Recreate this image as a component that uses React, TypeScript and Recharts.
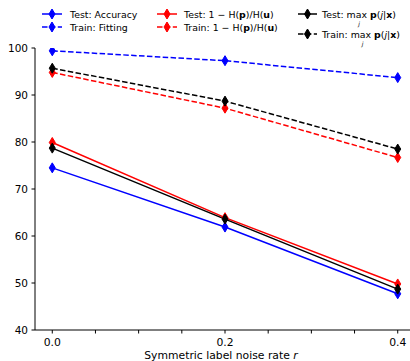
import React from 'react';
import { LineChart, Line, XAxis, YAxis, Legend } from 'recharts';

const noiseRates = [0.0, 0.2, 0.4];
const testAccuracy = [74.5, 61.9, 47.7];
const trainFitting = [99.4, 97.3, 93.7];
const testEntropy = [79.9, 63.9, 49.8];
const trainEntropy = [94.8, 87.2, 76.7];
const testMaxProb = [78.7, 63.6, 48.7];
const trainMaxProb = [95.7, 88.7, 78.5];

const xTicks = [0, 0.05, 0.1, 0.15, 0.2, 0.25, 0.3, 0.35, 0.4];
const xTickLabels = [0, 0.2, 0.4];
const yTicks = [40, 50, 60, 70, 80, 90, 100];

const data = noiseRates.map((r, i) => ({
  r,
  testAccuracy: testAccuracy[i],
  trainFitting: trainFitting[i],
  testEntropy: testEntropy[i],
  trainEntropy: trainEntropy[i],
  testMaxProb: testMaxProb[i],
  trainMaxProb: trainMaxProb[i],
}));

const FONT = '"DejaVu Sans", sans-serif';
const DASH = '5.5 2.4';

const diamondPoints = (cx: number, cy: number, w = 3, h = 5) =>
  `${cx},${cy - h} ${cx + w},${cy} ${cx},${cy + h} ${cx - w},${cy}`;

const makeDot = (color: string) => (props: any) => {
  const { cx, cy, key } = props;
  if (cx == null || cy == null) return <g key={key} />;
  return <polygon key={key} points={diamondPoints(cx, cy)} fill={color} stroke={color} strokeWidth={1} />;
};

const LegendHandle = ({ x1, x2, y, color, dashed }: any) => (
  <g>
    <line x1={x1} x2={x2} y1={y} y2={y} stroke={color} strokeWidth={1.5} strokeDasharray={dashed ? DASH : undefined} />
    <polygon points={diamondPoints((x1 + x2) / 2, y)} fill={color} stroke={color} strokeWidth={1} />
  </g>
);

const LegendContent = () => {
  const fs = 9.4;
  return (
    <svg width={410} height={48} style={{ display: 'block' }}>
      <g fontFamily={FONT} fontSize={fs} fill="#000">
        <LegendHandle x1={42} x2={62} y={14} color="#0000ff" />
        <text x={70} y={14} dominantBaseline="central">Test: Accuracy</text>
        <LegendHandle x1={42} x2={62} y={27} color="#0000ff" dashed />
        <text x={70} y={27} dominantBaseline="central">Train: Fitting</text>

        <LegendHandle x1={157} x2={177} y={14} color="#ff0000" />
        <text x={184} y={14} dominantBaseline="central">
          Test: 1 − H(<tspan fontWeight="bold">p</tspan>)/H(<tspan fontWeight="bold">u</tspan>)
        </text>
        <LegendHandle x1={157} x2={177} y={27} color="#ff0000" dashed />
        <text x={184} y={27} dominantBaseline="central">
          Train: 1 − H(<tspan fontWeight="bold">p</tspan>)/H(<tspan fontWeight="bold">u</tspan>)
        </text>

        <LegendHandle x1={298} x2={317} y={14} color="#000000" />
        <text x={322} y={14} dominantBaseline="central">
          Test: max <tspan fontWeight="bold">p</tspan>(<tspan fontStyle="italic">j</tspan>|<tspan fontWeight="bold">x</tspan>)
        </text>
        <text x={359} y={23.5} fontSize={6} fontStyle="italic" textAnchor="middle" dominantBaseline="central">j</text>
        <LegendHandle x1={298} x2={317} y={34} color="#000000" dashed />
        <text x={322} y={34} dominantBaseline="central">
          Train: max <tspan fontWeight="bold">p</tspan>(<tspan fontStyle="italic">j</tspan>|<tspan fontWeight="bold">x</tspan>)
        </text>
        <text x={362.5} y={43.5} fontSize={6} fontStyle="italic" textAnchor="middle" dominantBaseline="central">j</text>
      </g>
    </svg>
  );
};

const XLabel = () => (
  <text x={221} y={359} textAnchor="middle" fontFamily={FONT} fontSize={10.8} fill="#000">
    Symmetric label noise rate <tspan fontStyle="italic">r</tspan>
  </text>
);

const series = [
  { key: 'testAccuracy', color: '#0000ff', dashed: false },
  { key: 'trainFitting', color: '#0000ff', dashed: true },
  { key: 'testEntropy', color: '#ff0000', dashed: false },
  { key: 'trainEntropy', color: '#ff0000', dashed: true },
  { key: 'testMaxProb', color: '#000000', dashed: false },
  { key: 'trainMaxProb', color: '#000000', dashed: true },
];

export default function App() {
  return (
    <div style={{ position: 'absolute', left: 0, top: 0, width: 410, height: 361, overflow: 'hidden', background: '#fff' }}>
      <LineChart width={420} height={361} data={data} margin={{ top: 48, right: 5, bottom: 0, left: 0 }}>
        <XAxis
          xAxisId="top"
          orientation="top"
          dataKey="r"
          type="number"
          domain={[-0.02, 0.42]}
          height={0}
          tick={false}
          tickLine={false}
          axisLine={{ stroke: '#000', strokeWidth: 1 }}
        />
        <XAxis
          dataKey="r"
          type="number"
          domain={[-0.02, 0.42]}
          ticks={xTicks}
          interval={0}
          allowDataOverflow
          height={31}
          tickSize={3.5}
          tickMargin={5}
          tickLine={{ stroke: '#000' }}
          axisLine={{ stroke: '#000', strokeWidth: 1 }}
          tick={{ fontFamily: FONT, fontSize: 10.8, fill: '#000' }}
          tickFormatter={(v: number) => (xTickLabels.some((t) => Math.abs(t - v) < 1e-9) ? v.toFixed(1) : '')}
          label={<XLabel />}
        />
        <YAxis
          type="number"
          domain={[40, 100]}
          ticks={yTicks}
          interval={0}
          allowDataOverflow
          width={35}
          tickSize={3.5}
          tickMargin={3.5}
          tickLine={{ stroke: '#000' }}
          axisLine={{ stroke: '#000', strokeWidth: 1 }}
          tick={{ fontFamily: FONT, fontSize: 10.5, fill: '#000' }}
        />
        {series.map((s) => (
          <Line
            key={s.key}
            xAxisId={0}
            dataKey={s.key}
            stroke={s.color}
            strokeWidth={1.5}
            strokeDasharray={s.dashed ? DASH : undefined}
            dot={makeDot(s.color)}
            activeDot={false}
            isAnimationActive={false}
            type="linear"
          />
        ))}
        <Legend
          layout="horizontal"
          verticalAlign="middle"
          align="center"
          wrapperStyle={{ position: 'absolute', left: 0, top: 0, width: 410, height: 48 }}
          content={() => <LegendContent />}
        />
      </LineChart>
    </div>
  );
}
